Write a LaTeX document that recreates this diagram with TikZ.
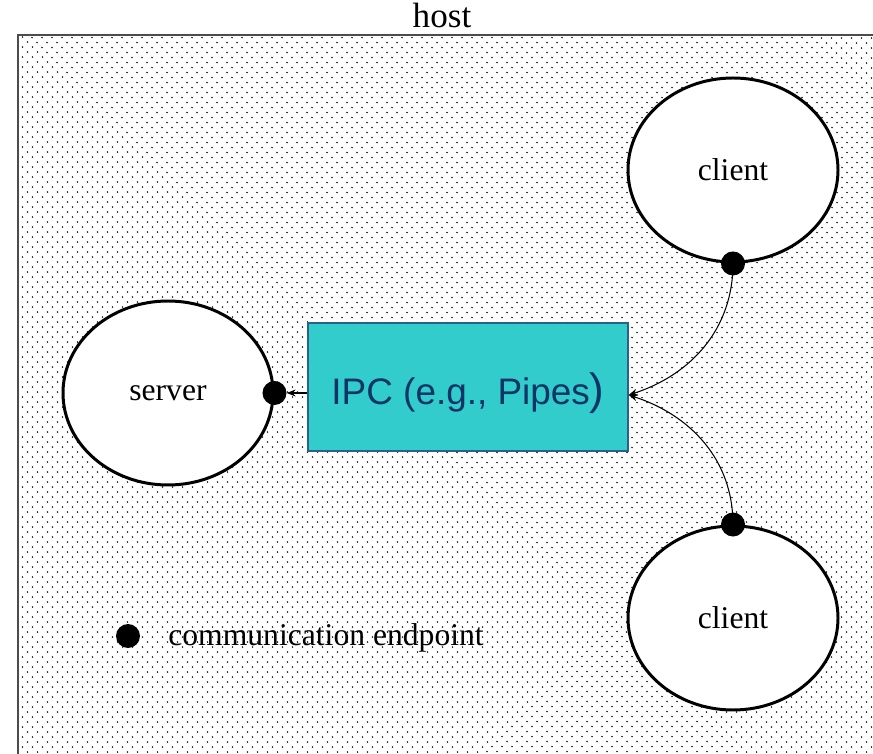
\documentclass[tikz,border=0pt]{standalone}
\usepackage{fontspec}
\setmainfont{Liberation Serif}
\newfontfamily\ipcfont{Liberation Sans}
\usetikzlibrary{shapes.geometric,calc,arrows.meta,positioning,patterns.meta}
\definecolor{ipcfill}{HTML}{33CCCC}
\definecolor{ipcborder}{HTML}{2B5F8C}
\definecolor{ipctext}{HTML}{0F3566}

\begin{document}
\begin{tikzpicture}[
  proc/.style={draw, line width=1.7pt, ellipse, fill=white, minimum width=4.2cm, minimum height=3.68cm, font=\fontsize{18}{20}\selectfont},
  endpt/.style={circle, fill=black, minimum size=0.48cm, inner sep=0pt},
  link/.style={line width=0.6pt, -{Stealth[length=5pt,width=4pt]}}
]
\clip (0,0) rectangle (17.46,-15.08);
\useasboundingbox (0,0) rectangle (17.46,-15.08);
% host area
\draw[line width=1.2pt, draw=black!70, pattern={Dots[distance=4pt, radius=0.55pt, angle=45]}, pattern color=black!80] (0.36,-0.70) rectangle (18.5,-16);
\node[anchor=base, font=\fontsize{20}{22}\selectfont] (host) at (8.84,-0.56) {host};
% processes
\node[proc] (srv) at (3.36,-7.86) {server};
\node[proc] (cli1) at (14.66,-3.40) {client};
\node[proc] (cli2) at (14.66,-12.36) {client};
\node[draw=ipcborder, line width=0.8pt, fill=ipcfill, minimum width=6.4cm, minimum height=2.56cm, text height=0.92cm, text depth=0.2cm, text=ipctext, font=\ipcfont\fontsize{21}{24}\selectfont] (ipc) at (9.36,-7.74) {IPC (e.g., Pipes{\fontsize{25}{25}\selectfont)}};
% endpoints
\node[endpt] (srvdot) at (srv.east) {};
\node[endpt] (cli1dot) at (cli1.south) {};
\node[endpt] (cli2dot) at (cli2.north) {};
\coordinate (ipcport) at ([yshift=-0.16cm]ipc.east);
% connections
\draw[link] (ipc.west |- srvdot) -- (srvdot.east);
\draw[link] (cli1dot.center) to[out=-90, in=18] (ipcport);
\draw[link] (cli2dot.center) to[out=90, in=-18] (ipcport);
% legend
\node[endpt] (legdot) at (2.56,-12.72) {};
\node[anchor=west, font=\fontsize{18}{20}\selectfont, inner sep=0pt] (legtext) at (3.36,-12.76) {communication endpoint};
\end{tikzpicture}
\end{document}
